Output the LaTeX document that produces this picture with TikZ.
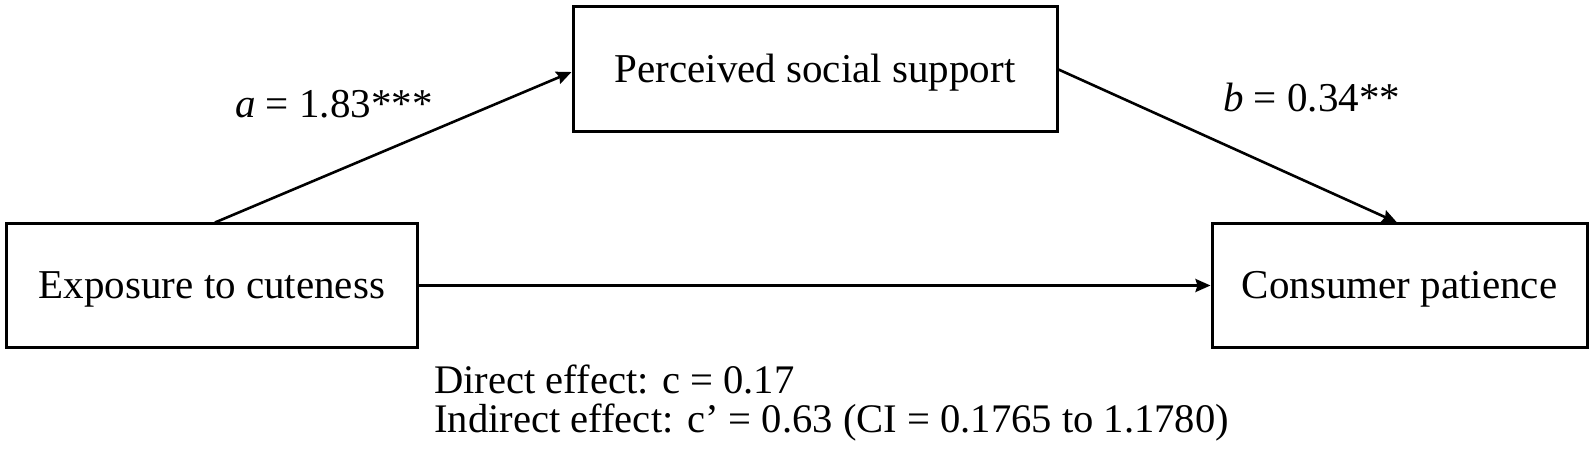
\documentclass[tikz,border=0pt]{standalone}
\usepackage{fontspec}
\setmainfont{Liberation Serif}
\usetikzlibrary{arrows.meta}
\begin{document}
\begin{tikzpicture}[x=1bp,y=-1bp,
  every node/.style={font=\fontsize{41bp}{49bp}\selectfont},
  varbox/.style={draw=black,line width=3bp,inner sep=0pt,text height=27bp,text depth=0pt},
  conn/.style={line width=2.6bp,-{Stealth[length=15bp,width=13bp,inset=2bp]}},
  lbl/.style={anchor=base west,inner sep=0pt}
]
\useasboundingbox[fill=white] (0,0) rectangle (1595,459);
\node[varbox,minimum width=410bp,minimum height=123bp] (left) at (212,285.5) {Exposure to cuteness};
\node[varbox,minimum width=484bp,minimum height=125bp] (top) at (815,69.5) {Perceived social support};
\node[varbox,minimum width=375bp,minimum height=123bp] (right) at (1399.5,285.5) {Consumer patience};

\draw[conn] ([xshift=3bp]left.north) -- ([yshift=-2.5bp]top.west);
\draw[conn] (top.east) -- ([xshift=-2.5bp]right.north);
\draw[conn] (left.east) -- (right.west);

\node[lbl] (la) at (235,118) {\textit{a} = 1.83***};
\node[lbl] (lb) at (1223,112) {\textit{b} = 0.34**};
\node[lbl,font=\fontsize{40.6bp}{48bp}\selectfont] (d1) at (434,393) {Direct effect: c = 0.17};
\node[lbl,font=\fontsize{40.6bp}{48bp}\selectfont] (d2) at (434,432) {Indirect effect: c’ = 0.63 (CI = 0.1765 to 1.1780)};
\end{tikzpicture}
\end{document}
